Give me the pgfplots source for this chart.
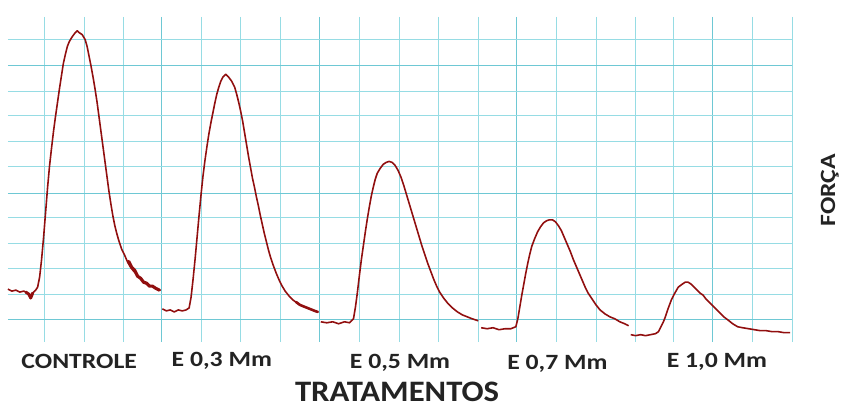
\documentclass[border=0pt]{standalone}
\usepackage{fontspec}
\setmainfont{Carlito}
\usepackage{graphicx}
\usepackage{pgfplots}
\pgfplotsset{compat=1.18}

\definecolor{gridlight}{RGB}{150,220,228}
\definecolor{griddark}{RGB}{110,200,212}
\definecolor{trace}{RGB}{145,15,15}
\definecolor{ink}{RGB}{35,35,35}

\pgfplotsset{
  tr/.style={draw=trace, line width=1.6pt, line join=round, mark=none},
  trthick/.style={draw=trace, line width=#1, line join=round, line cap=round, mark=none},
}

\newcommand{\lab}[1]{\bfseries\fontsize{22}{26}\selectfont\scalebox{1.18}[1]{#1}}

\begin{document}
\begin{tikzpicture}
\begin{axis}[
  x=1pt, y=1pt, y dir=reverse,
  xmin=8, xmax=800, ymin=17, ymax=345,
  scale only axis, clip=false,
  axis line style={draw=none},
  tick style={draw=none},
  xticklabels={}, yticklabels={},
  xtick={163,323,522,720},
  minor xtick={45,85,125,203,243,283,363,403,443,483,562,602,642,680,760,800},
  ytick={66,195,323},
  minor ytick={40,92,117,143,168,220,246,271,297},
  grid=both,
  major x grid style={draw=griddark, line width=1.1pt},
  major y grid style={draw=griddark, line width=1.1pt},
  minor x grid style={draw=gridlight, line width=0.9pt},
  minor y grid style={draw=gridlight, line width=0.9pt},
]
\path (axis cs:0,0) rectangle (axis cs:842,412);

% CONTROLE
\addplot[tr] coordinates {(8,292)(12,294)(16,293)(20,295)(24,294)(28,296)(31,301)(33,296)(36,293)(38,290)(40,280)(42,262)(44,240)(46,215)(48,190)(50,168)(52,150)(54,133)(56,118)(58,104)(60,90)(62,77)(64,64)(66,55)(68,47)(70,42)(73,37)(76,33)(78,31)(80,33)(83,35)(86,40)(88,47)(90,57)(92,67)(94,78)(96,90)(98,103)(100,118)(102,133)(104,148)(106,163)(108,178)(110,193)(112,206)(114,218)(116,228)(118,236)(120,243)(123,252)(126,258)(129,265)(132,270)(135,274)(138,277)(141,281)(144,284)(147,286)(150,288)(153,289)(156,290)(159,292)(162,293)};
\addplot[trthick=3.2pt] coordinates {(130,264)(133,270)(136,273)(139,279)(142,281)(145,285)(148,286)(151,289)(154,289)(157,291)(161,293)};
\addplot[trthick=3pt] coordinates {(26,295)(29,297)(31,301)(33,296)};

% E 0,3 Mm
\addplot[tr] coordinates {(164,312)(168,314)(172,313)(176,315)(180,313)(184,314)(188,313)(191,311)(193,300)(195,282)(197,262)(199,240)(201,218)(203,197)(205,178)(207,162)(209,148)(211,135)(213,124)(215,114)(217,104)(219,95)(221,88)(223,82)(225,78)(228,75)(231,78)(234,82)(237,88)(239,95)(241,103)(243,112)(245,122)(247,134)(249,146)(251,158)(253,169)(255,180)(257,189)(259,199)(261,208)(263,218)(265,227)(267,236)(269,244)(271,252)(273,259)(276,268)(279,276)(282,283)(285,289)(288,294)(292,299)(296,303)(300,306)(305,309)(310,311)(315,313)(320,315)};
\addplot[trthick=2.6pt] coordinates {(299,305)(303,308)(308,310)(313,312)(318,314)(321,315)};

% E 0,5 Mm
\addplot[tr] coordinates {(324,325)(330,326)(336,325)(342,327)(348,325)(353,326)(357,322)(359,310)(361,295)(363,278)(365,262)(367,248)(369,234)(371,221)(373,209)(375,198)(377,189)(379,181)(381,175)(384,170)(387,166)(390,164)(393,163)(396,164)(399,167)(402,172)(405,179)(408,188)(411,198)(414,208)(417,218)(420,228)(423,238)(426,248)(429,257)(432,266)(435,274)(438,282)(441,289)(444,295)(448,301)(452,306)(457,311)(462,315)(467,318)(472,320)(477,322)(483,324)};

% E 0,7 Mm
\addplot[tr] coordinates {(486,331)(492,332)(498,331)(504,333)(510,332)(516,332)(521,330)(523,322)(525,310)(527,298)(529,287)(531,276)(533,266)(535,257)(537,249)(540,241)(543,234)(546,229)(549,225)(552,223)(555,222)(558,222)(561,224)(564,228)(567,233)(570,240)(573,247)(576,254)(579,262)(582,269)(585,276)(588,283)(591,290)(594,296)(598,302)(602,308)(606,313)(611,317)(616,320)(621,322)(626,325)(631,327)(635,329)};

% E 1,0 Mm
\addplot[tr] coordinates {(637,338)(642,339)(647,338)(652,339)(657,338)(662,337)(665,335)(667,331)(670,325)(672,320)(675,311)(678,303)(681,297)(685,290)(689,287)(692,285)(695,285)(698,287)(701,290)(704,293)(707,296)(710,298)(713,302)(716,305)(720,309)(723,312)(727,316)(731,320)(735,323)(740,327)(745,330)(750,331)(756,332)(762,333)(768,334)(774,334)(780,335)(786,335)(792,336)(798,336)};

% labels
\begin{scope}[every node/.style={text=ink}]
\node[anchor=base] at (axis cs:80,372) {\lab{CONTROLE}};
\node[anchor=base] at (axis cs:224,370) {\lab{E 0,3 Mm}};
\node[anchor=base] at (axis cs:404,372) {\lab{E 0,5 Mm}};
\node[anchor=base] at (axis cs:563,373) {\lab{E 0,7 Mm}};
\node[anchor=base] at (axis cs:724,371) {\lab{E 1,0 Mm}};
\node[anchor=base] at (axis cs:401,406) {\bfseries\fontsize{30}{36}\selectfont\scalebox{1.1}[1]{TRATAMENTOS}};
\node[rotate=90] at (axis cs:838,192) {\lab{FORÇA}};
\end{scope}
\end{axis}
\end{tikzpicture}
\end{document}
